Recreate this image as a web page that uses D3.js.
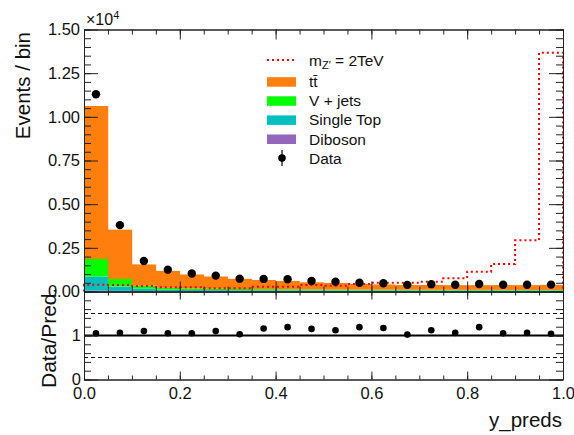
<!DOCTYPE html>
<html>
<head>
<meta charset="utf-8">
<script src="https://cdn.jsdelivr.net/npm/d3@7"></script>
<style>
  body { margin: 0; background: #fff; }
  svg { font-family: "Liberation Sans", Arial, sans-serif; display: block; }
  .tick text { fill: #111; }
</style>
</head>
<body>
<div id="chart"></div>
<script>
// Bin edges of y_preds (20 bins)
var binEdges = [0, 0.05, 0.1, 0.15, 0.2, 0.25, 0.3, 0.35, 0.4, 0.45, 0.5,
                0.55, 0.6, 0.65, 0.7, 0.75, 0.8, 0.85, 0.9, 0.95, 1.0];

// Stacked backgrounds (events / bin)
var diboson   = [60, 35, 30, 30, 30, 28, 28, 28, 27, 27, 26, 26, 26, 25, 25, 25, 25, 25, 25, 25];
var singleTop = [790, 250, 130, 70, 55, 50, 45, 42, 40, 38, 36, 35, 34, 33, 32, 32, 31, 31, 30, 30];
var vJets     = [1010, 430, 170, 110, 90, 80, 70, 64, 58, 54, 50, 47, 45, 42, 40, 39, 38, 37, 36, 35];
var ttbar     = [8760, 2825, 1220, 970, 800, 702, 582, 526, 475, 406, 378, 322, 300, 270, 278, 269, 271, 275, 274, 290];

// Signal (not stacked) and data
var signal    = [385, 370, 310, 245, 240, 180, 180, 275, 275, 370, 335, 430, 505, 505, 560, 755, 1135, 1575, 2930, 13670];
var dataCounts = [11290, 3800, 1745, 1250, 1030, 910, 735, 720, 700, 600, 555, 505, 470, 380, 420, 390, 430, 385, 385, 395];

// Data / Pred as drawn in the lower pad
var ratio = [1.05, 1.06, 1.10, 1.05, 1.05, 1.10, 1.03, 1.16, 1.19, 1.15, 1.12, 1.19, 1.17, 1.02, 1.12, 1.06, 1.19, 1.05, 1.06, 1.04];

// Ticks
var xTicks = [0, 0.2, 0.4, 0.6, 0.8, 1.0];
var yTicks = [0, 2500, 5000, 7500, 10000, 12500, 15000];
var ratioTicks = [0, 1, 2];
var ratioLabels = ['0', '1', ''];

var samples = [
  {name: 'Diboson',    values: diboson,   color: '#9467bd'},
  {name: 'Single Top', values: singleTop, color: '#00bfbf'},
  {name: 'V + jets',   values: vJets,     color: '#00ff00'},
  {name: 'ttbar',      values: ttbar,     color: '#ff7f0e'}
];

var width = 574, height = 435;
var left = 84, right = 563;
var topY0 = 29.5, topY1 = 291.5;    // upper pad frame
var botY0 = 291.5, botY1 = 379.5;   // ratio pad frame

var svg = d3.select('#chart').append('svg')
            .attr('width', width)
            .attr('height', height);

var x = d3.scaleLinear().domain([0, 1]).range([left, right]);
var y = d3.scaleLinear().domain([0, 15000]).range([topY1, topY0]);
var yr = d3.scaleLinear().domain([0, 2]).range([botY1, botY0]);

var bins = d3.range(binEdges.length - 1).map(function(i) {
  return {lo: binEdges[i], hi: binEdges[i + 1], i: i};
});

// ---------- lower pad (drawn first so the upper pad can sit over it) ----------
var gb = svg.append('g');

// "Data/Pred." label, partly hidden under the upper pad
gb.append('text')
  .attr('transform', 'translate(56,388) rotate(-90)')
  .attr('font-size', 21)
  .attr('fill', '#111')
  .text('Data/Pred.');

// reference lines
gb.append('line')
  .attr('x1', left).attr('x2', right)
  .attr('y1', yr(1)).attr('y2', yr(1))
  .attr('stroke', '#000').attr('stroke-width', 2);

[0.5, 1.5].forEach(function(v) {
  gb.append('line')
    .attr('x1', left).attr('x2', right)
    .attr('y1', yr(v)).attr('y2', yr(v))
    .attr('stroke', '#111').attr('stroke-width', 1)
    .attr('stroke-dasharray', '4,3');
});

gb.selectAll('.rdot')
  .data(bins)
  .enter().append('circle')
  .attr('class', 'rdot')
  .attr('cx', function(d) { return x((d.lo + d.hi) / 2); })
  .attr('cy', function(d) { return yr(ratio[d.i]); })
  .attr('r', 3.3)
  .attr('fill', '#000');

// ratio pad axes
var rLeft = d3.axisLeft(yr).tickValues(ratioTicks)
              .tickFormat(function(d, i) { return ratioLabels[i]; })
              .tickSizeInner(-14).tickSizeOuter(0).tickPadding(3);
var rLeftMinor = d3.axisLeft(yr).tickValues(d3.range(0, 2.001, 0.2))
              .tickFormat('').tickSizeInner(-7).tickSizeOuter(0);
var rRight = d3.axisRight(yr).tickValues(ratioTicks).tickFormat('')
              .tickSizeInner(-14).tickSizeOuter(0);
var rRightMinor = d3.axisRight(yr).tickValues(d3.range(0, 2.001, 0.2))
              .tickFormat('').tickSizeInner(-7).tickSizeOuter(0);
var rBottom = d3.axisBottom(x).tickValues(xTicks).tickFormat(d3.format('.1f'))
              .tickSizeInner(-8).tickSizeOuter(0).tickPadding(8);
var rBottomMinor = d3.axisBottom(x).tickValues(d3.range(0, 1.0001, 0.05))
              .tickFormat('').tickSizeInner(-4).tickSizeOuter(0);
var rTop = d3.axisTop(x).tickValues(xTicks).tickFormat('')
              .tickSizeInner(-8).tickSizeOuter(0);
var rTopMinor = d3.axisTop(x).tickValues(d3.range(0, 1.0001, 0.05))
              .tickFormat('').tickSizeInner(-4).tickSizeOuter(0);

gb.append('g').attr('transform', 'translate(' + left + ',0)').call(rLeftMinor);
gb.append('g').attr('transform', 'translate(' + left + ',0)').call(rLeft);
gb.append('g').attr('transform', 'translate(' + right + ',0)').call(rRightMinor);
gb.append('g').attr('transform', 'translate(' + right + ',0)').call(rRight);
gb.append('g').attr('transform', 'translate(0,' + botY1 + ')').call(rBottomMinor);
gb.append('g').attr('class', 'xlab').attr('transform', 'translate(0,' + botY1 + ')').call(rBottom);
gb.append('g').attr('transform', 'translate(0,' + botY0 + ')').call(rTopMinor);
gb.append('g').attr('transform', 'translate(0,' + botY0 + ')').call(rTop);

gb.append('text')
  .attr('x', 562).attr('y', 427)
  .attr('text-anchor', 'end')
  .attr('font-size', 20.5)
  .attr('fill', '#111')
  .text('y_preds');

// ---------- upper pad ----------
var gt = svg.append('g');

gt.append('rect')
  .attr('x', 0).attr('y', 0)
  .attr('width', width).attr('height', 290)
  .attr('fill', '#fff');

gt.append('text')
  .attr('transform', 'translate(30,32) rotate(-90)')
  .attr('text-anchor', 'end')
  .attr('font-size', 20.5)
  .attr('fill', '#111')
  .text('Events / bin');

// stacked histograms
var stack = d3.stack()
  .keys(samples.map(function(s, k) { return k; }))
  .value(function(b, k) { return samples[k].values[b.i]; });
var layers = stack(bins);

layers.forEach(function(layer, k) {
  gt.append('g')
    .selectAll('rect')
    .data(layer)
    .enter().append('rect')
    .attr('x', function(d) { return x(d.data.lo); })
    .attr('width', function(d) { return x(d.data.hi) - x(d.data.lo) + 0.3; })
    .attr('y', function(d) { return y(d[1]); })
    .attr('height', function(d) { return y(d[0]) - y(d[1]); })
    .attr('fill', samples[k].color);
});

// signal outline (step histogram)
var sigPts = [[binEdges[0], 0]];
bins.forEach(function(b) {
  sigPts.push([b.lo, signal[b.i]]);
  sigPts.push([b.hi, signal[b.i]]);
});
sigPts.push([binEdges[binEdges.length - 1], 0]);

var sigLine = d3.line()
  .x(function(d) { return x(d[0]); })
  .y(function(d) { return y(d[1]); });

gt.append('path')
  .attr('d', sigLine(sigPts))
  .attr('fill', 'none')
  .attr('stroke', '#ff0000')
  .attr('stroke-width', 2)
  .attr('stroke-dasharray', '2,3');

// data points with stat errors
gt.selectAll('.derr')
  .data(bins)
  .enter().append('line')
  .attr('class', 'derr')
  .attr('x1', function(d) { return x((d.lo + d.hi) / 2); })
  .attr('x2', function(d) { return x((d.lo + d.hi) / 2); })
  .attr('y1', function(d) { return y(dataCounts[d.i] - Math.sqrt(dataCounts[d.i])); })
  .attr('y2', function(d) { return y(dataCounts[d.i] + Math.sqrt(dataCounts[d.i])); })
  .attr('stroke', '#000').attr('stroke-width', 1.2);

gt.selectAll('.dot')
  .data(bins)
  .enter().append('circle')
  .attr('class', 'dot')
  .attr('cx', function(d) { return x((d.lo + d.hi) / 2); })
  .attr('cy', function(d) { return y(dataCounts[d.i]); })
  .attr('r', 4.2)
  .attr('fill', '#000');

// upper pad axes
var tLeft = d3.axisLeft(y).tickValues(yTicks)
              .tickFormat(function(d) { return d3.format('.2f')(d / 1e4); })
              .tickSizeInner(-14).tickSizeOuter(0).tickPadding(4);
var tLeftMinor = d3.axisLeft(y).tickValues(d3.range(0, 15001, 500))
              .tickFormat('').tickSizeInner(-7).tickSizeOuter(0);
var tRight = d3.axisRight(y).tickValues(yTicks).tickFormat('')
              .tickSizeInner(-14).tickSizeOuter(0);
var tRightMinor = d3.axisRight(y).tickValues(d3.range(0, 15001, 500))
              .tickFormat('').tickSizeInner(-7).tickSizeOuter(0);
var tBottom = d3.axisBottom(x).tickValues(xTicks).tickFormat('')
              .tickSizeInner(-10).tickSizeOuter(0);
var tBottomMinor = d3.axisBottom(x).tickValues(d3.range(0, 1.0001, 0.05))
              .tickFormat('').tickSizeInner(-5).tickSizeOuter(0);
var tTop = d3.axisTop(x).tickValues(xTicks).tickFormat('')
              .tickSizeInner(-10).tickSizeOuter(0);
var tTopMinor = d3.axisTop(x).tickValues(d3.range(0, 1.0001, 0.05))
              .tickFormat('').tickSizeInner(-5).tickSizeOuter(0);

gt.append('g').attr('transform', 'translate(' + left + ',0)').call(tLeftMinor);
gt.append('g').attr('transform', 'translate(' + left + ',0)').call(tLeft);
gt.append('g').attr('transform', 'translate(' + right + ',0)').call(tRightMinor);
gt.append('g').attr('transform', 'translate(' + right + ',0)').call(tRight);
gt.append('g').attr('transform', 'translate(0,' + topY1 + ')').call(tBottomMinor);
gt.append('g').attr('transform', 'translate(0,' + topY1 + ')').call(tBottom);
gt.append('g').attr('transform', 'translate(0,' + topY0 + ')').call(tTopMinor);
gt.append('g').attr('transform', 'translate(0,' + topY0 + ')').call(tTop);

// x10^4 exponent
var expo = gt.append('text')
  .attr('x', 86).attr('y', 25)
  .attr('font-size', 16)
  .attr('fill', '#111');
expo.append('tspan').text('\u00d710');
expo.append('tspan').attr('font-size', 11).attr('dy', -6).text('4');

// tick label / line styling
svg.selectAll('.tick text').attr('font-size', 16.5).attr('font-family', '"Liberation Sans", Arial, sans-serif');
svg.selectAll('.tick line').attr('stroke', '#222');
svg.selectAll('.domain').attr('stroke', '#222');

// ---------- legend ----------
var legend = gt.append('g').attr('font-size', 15.5).attr('fill', '#111');
var legendRows = [
  {type: 'line'},
  {type: 'box', color: '#ff7f0e'},
  {type: 'box', color: '#00ff00', label: 'V + jets'},
  {type: 'box', color: '#00bfbf', label: 'Single Top'},
  {type: 'box', color: '#9467bd', label: 'Diboson'},
  {type: 'point', label: 'Data'}
];
function rowY(i) { return i === 0 ? 60 : 81.7 + (i - 1) * 19.1; }

legendRows.forEach(function(r, i) {
  var cy = rowY(i);
  if (r.type === 'line') {
    legend.append('line')
      .attr('x1', 267).attr('x2', 294).attr('y1', cy).attr('y2', cy)
      .attr('stroke', '#ff0000').attr('stroke-width', 2)
      .attr('stroke-dasharray', '2,3');
  } else if (r.type === 'box') {
    legend.append('rect')
      .attr('x', 267).attr('y', cy - 4.5)
      .attr('width', 29).attr('height', 9.5)
      .attr('fill', r.color);
  } else {
    legend.append('line')
      .attr('x1', 282).attr('x2', 282).attr('y1', cy - 8).attr('y2', cy + 8)
      .attr('stroke', '#000').attr('stroke-width', 1.2);
    legend.append('circle').attr('cx', 282).attr('cy', cy).attr('r', 3.8).attr('fill', '#000');
  }
});

// m_{Z'} = 2TeV
var t0 = legend.append('text').attr('x', 309).attr('y', rowY(0) + 5.5);
t0.append('tspan').text('m');
t0.append('tspan').attr('font-size', 11).attr('dy', 3).text('Z\u2032');
t0.append('tspan').attr('dy', -3).text(' = 2TeV');

// t tbar
legend.append('text').attr('x', 309).attr('y', rowY(1) + 5.5).text('tt\u0304');

legendRows.forEach(function(r, i) {
  if (r.label) {
    legend.append('text').attr('x', 309).attr('y', rowY(i) + 5.5).text(r.label);
  }
});
</script>
</body>
</html>
